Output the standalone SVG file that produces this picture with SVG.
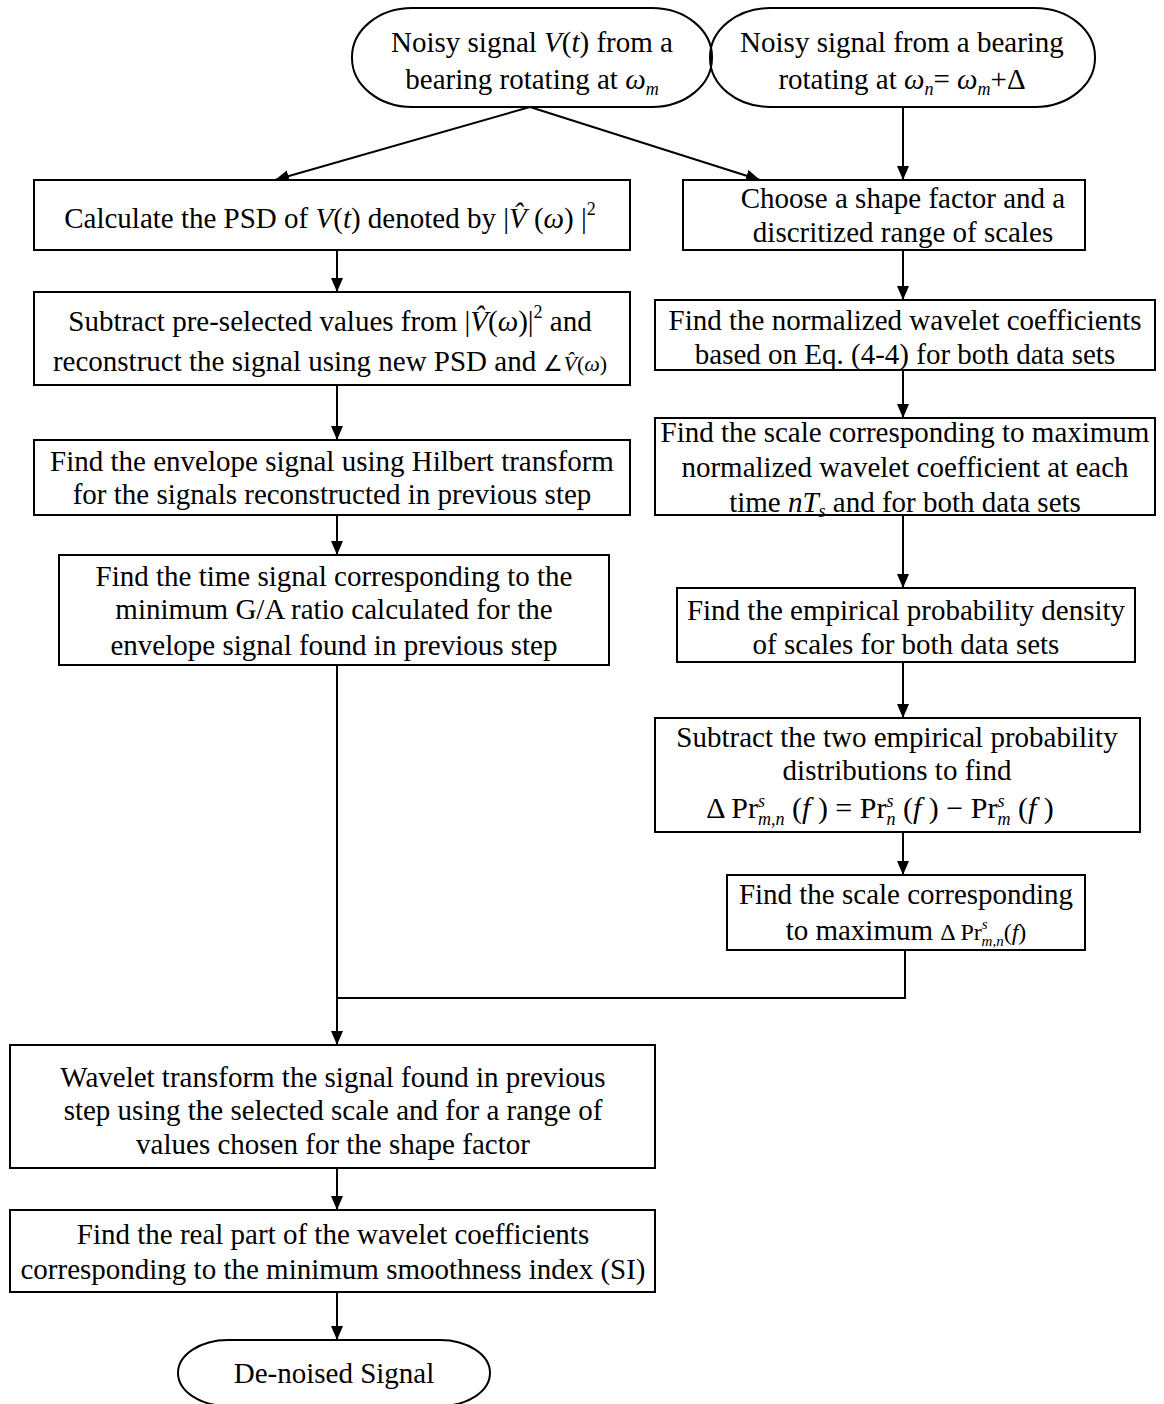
<svg xmlns="http://www.w3.org/2000/svg" width="1164" height="1404" viewBox="0 0 1164 1404">
<style>
.b{fill:#fff;stroke:#000;stroke-width:2}
.t{font-family:"Liberation Serif","Times New Roman",serif;font-size:29px;fill:#000;text-anchor:middle}
.i{font-style:italic}
.s{font-size:18px}
.x{font-size:15px;font-style:italic}
.c{fill:none;stroke:#000;stroke-width:2}
</style>
<defs>
<marker id="a" viewBox="0 0 14 12" refX="14" refY="6" markerWidth="14" markerHeight="12" markerUnits="userSpaceOnUse" orient="auto">
<path d="M0,0 L14,6 L0,12 Z" fill="#000"/>
</marker>
</defs>
<rect width="1164" height="1404" fill="#fff"/>
<g id="connectors">
<line class="c" x1="530" y1="107" x2="275" y2="180" marker-end="url(#a)"/>
<line class="c" x1="530" y1="107" x2="760" y2="180" marker-end="url(#a)"/>
<line class="c" x1="903" y1="107" x2="903" y2="180" marker-end="url(#a)"/>
<line class="c" x1="337" y1="250" x2="337" y2="292" marker-end="url(#a)"/>
<line class="c" x1="337" y1="385" x2="337" y2="440" marker-end="url(#a)"/>
<line class="c" x1="337" y1="515" x2="337" y2="555" marker-end="url(#a)"/>
<line class="c" x1="337" y1="665" x2="337" y2="1045" marker-end="url(#a)"/>
<polyline class="c" points="905,950 905,998 337,998"/>
<line class="c" x1="337" y1="1168" x2="337" y2="1210" marker-end="url(#a)"/>
<line class="c" x1="337" y1="1292" x2="337" y2="1340" marker-end="url(#a)"/>
<line class="c" x1="903" y1="250" x2="903" y2="300" marker-end="url(#a)"/>
<line class="c" x1="903" y1="370" x2="903" y2="418" marker-end="url(#a)"/>
<line class="c" x1="903" y1="515" x2="903" y2="588" marker-end="url(#a)"/>
<line class="c" x1="903" y1="662" x2="903" y2="718" marker-end="url(#a)"/>
<line class="c" x1="903" y1="832" x2="903" y2="875" marker-end="url(#a)"/>
</g>
<g id="start1">
<rect class="b" x="352" y="8" width="360" height="99" rx="60" ry="49"/>
<text class="t" x="532" y="52">Noisy signal <tspan class="i">V</tspan>(<tspan class="i">t</tspan>) from a</text>
<text class="t" x="532" y="89">bearing rotating at <tspan class="i">ω<tspan class="s" dy="6">m</tspan></tspan></text>
</g>
<g id="start2">
<rect class="b" x="710" y="8" width="385" height="99" rx="60" ry="49" fill-opacity="0"/>
<text class="t" x="902" y="52">Noisy signal from a bearing</text>
<text class="t" x="902" y="89">rotating at <tspan class="i">ω<tspan class="s" dy="6">n</tspan></tspan><tspan dy="-6">= </tspan><tspan class="i">ω<tspan class="s" dy="6">m</tspan></tspan><tspan dy="-6">+Δ</tspan></text>
</g>
<g id="psd">
<rect class="b" x="34" y="180" width="596" height="70"/>
<text class="t" x="330" y="228">Calculate the PSD of <tspan class="i">V</tspan>(<tspan class="i">t</tspan>) denoted by |<tspan class="i">V̂</tspan> (<tspan class="i">ω</tspan>) |<tspan class="s" dy="-13">2</tspan></text>
</g>
<g id="subtract">
<rect class="b" x="34" y="292" width="596" height="93"/>
<text class="t" x="330" y="331">Subtract pre-selected values from |<tspan class="i">V̂</tspan>(<tspan class="i">ω</tspan>)|<tspan class="s" dy="-13">2</tspan><tspan dy="13"> and</tspan></text>
<text class="t" x="330" y="371">reconstruct the signal using new PSD and <tspan style="font-size:22px">∠<tspan class="i">V̂</tspan>(<tspan class="i">ω</tspan>)</tspan></text>
</g>
<g id="hilbert">
<rect class="b" x="34" y="440" width="596" height="75"/>
<text class="t" x="332" y="471">Find the envelope signal using Hilbert transform</text>
<text class="t" x="332" y="504">for the signals reconstructed in previous step</text>
</g>
<g id="ga">
<rect class="b" x="59" y="555" width="550" height="110"/>
<text class="t" x="334" y="586">Find the time signal corresponding to the</text>
<text class="t" x="334" y="619">minimum G/A ratio calculated for the</text>
<text class="t" x="334" y="655">envelope signal found in previous step</text>
</g>
<g id="wavelet">
<rect class="b" x="10" y="1045" width="645" height="123"/>
<text class="t" x="333" y="1087">Wavelet transform the signal found in previous</text>
<text class="t" x="333" y="1120">step using the selected scale and for a range of</text>
<text class="t" x="333" y="1154">values chosen for the shape factor</text>
</g>
<g id="realpart">
<rect class="b" x="10" y="1210" width="645" height="82"/>
<text class="t" x="333" y="1244">Find the real part of the wavelet coefficients</text>
<text class="t" x="333" y="1279">corresponding to the minimum smoothness index (SI)</text>
</g>
<g id="end">
<rect class="b" x="178" y="1340" width="312" height="66" rx="50" ry="33"/>
<text class="t" x="334" y="1383">De-noised Signal</text>
</g>
<g id="choose">
<rect class="b" x="683" y="180" width="402" height="70"/>
<text class="t" x="903" y="208">Choose a shape factor and a</text>
<text class="t" x="903" y="242">discritized range of scales</text>
</g>
<g id="normalized">
<rect class="b" x="655" y="300" width="500" height="70"/>
<text class="t" x="905" y="330">Find the normalized wavelet coefficients</text>
<text class="t" x="905" y="364">based on Eq. (4-4) for both data sets</text>
</g>
<g id="scalemax">
<rect class="b" x="655" y="418" width="500" height="97"/>
<text class="t" x="905" y="442">Find the scale corresponding to maximum</text>
<text class="t" x="905" y="477">normalized wavelet coefficient at each</text>
<text class="t" x="905" y="512">time <tspan class="i">nT<tspan class="s" dy="5">s</tspan></tspan><tspan dy="-5"> and for both data sets</tspan></text>
</g>
<g id="empirical">
<rect class="b" x="677" y="588" width="458" height="74"/>
<text class="t" x="906" y="620">Find the empirical probability density</text>
<text class="t" x="906" y="654">of scales for both data sets</text>
</g>
<g id="subtract2">
<rect class="b" x="655" y="718" width="485" height="114"/>
<text class="t" x="897" y="747">Subtract the two empirical probability</text>
<text class="t" x="897" y="780">distributions to find</text>
<text class="t" x="880" y="818" style="font-size:30px">Δ Pr<tspan class="s i" dy="-11">s</tspan><tspan class="s i" dx="-7" dy="18">m,n</tspan><tspan dy="-7"> (</tspan><tspan class="i">f </tspan>) = Pr<tspan class="s i" dy="-11">s</tspan><tspan class="s i" dx="-7" dy="18">n</tspan><tspan dy="-7"> (</tspan><tspan class="i">f </tspan>) − Pr<tspan class="s i" dy="-11">s</tspan><tspan class="s i" dx="-7" dy="18">m</tspan><tspan dy="-7"> (</tspan><tspan class="i">f </tspan>)</text>
</g>
<g id="scaledelta">
<rect class="b" x="727" y="875" width="358" height="75"/>
<text class="t" x="906" y="904">Find the scale corresponding</text>
<text class="t" x="906" y="940">to maximum <tspan style="font-size:24px">Δ Pr<tspan class="x" dy="-11">s</tspan><tspan class="x" dx="-6" dy="17">m,n</tspan><tspan dy="-6">(</tspan><tspan class="i">f</tspan>)</tspan></text>
</g>
</svg>
